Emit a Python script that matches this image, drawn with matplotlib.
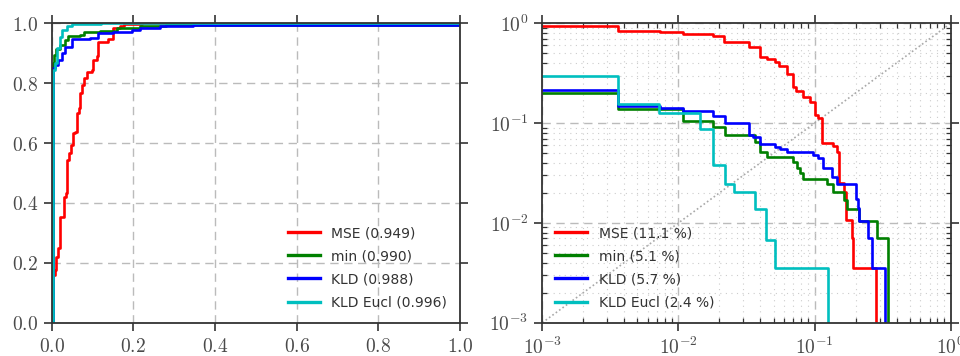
import matplotlib
matplotlib.use("Agg")
import math
import matplotlib.pyplot as plt
from matplotlib.ticker import FormatStrFormatter, LogLocator, FuncFormatter, NullFormatter

plt.rcParams['mathtext.fontset'] = 'cm'
plt.rcParams['font.family'] = ['DejaVu Sans']

# ---------------- data: ROC (left) ----------------
labels_roc = ["MSE (0.949)", "min (0.990)", "KLD (0.988)", "KLD Eucl (0.996)"]
labels_det = ["MSE (11.1 %)", "min (5.1 %)", "KLD (5.7 %)", "KLD Eucl (2.4 %)"]
colors = ["#ff0000", "#008000", "#0000ff", "#00bfbf"]

roc_mse_fpr = [0.0, 0.003, 0.004, 0.008, 0.010, 0.016, 0.020, 0.030, 0.036, 0.038, 0.042, 0.047,
               0.051, 0.056, 0.061, 0.066, 0.068, 0.073, 0.079, 0.087, 0.098, 0.102, 0.110, 0.114,
               0.139, 0.149, 0.151, 0.167, 0.176, 0.200, 0.220, 1.0]
roc_mse_tpr = [0.0, 0.065, 0.16, 0.176, 0.22, 0.248, 0.354, 0.42, 0.432, 0.543, 0.566, 0.594,
               0.632, 0.638, 0.70, 0.716, 0.766, 0.794, 0.816, 0.838, 0.844, 0.877, 0.89, 0.939,
               0.947, 0.978, 0.983, 0.991, 0.997, 0.999, 1.0, 1.0]

roc_min_fpr = [0.0, 0.002, 0.0065, 0.0105, 0.020, 0.033, 0.041, 0.069, 0.078, 0.118, 0.160, 0.216, 0.280, 0.347, 1.0]
roc_min_tpr = [0.0, 0.866, 0.894, 0.915, 0.928, 0.944, 0.958, 0.962, 0.972, 0.975, 0.983, 0.991, 0.993, 0.996, 1.0]

roc_kld_fpr = [0.0, 0.002, 0.008, 0.016, 0.024, 0.033, 0.049, 0.094, 0.114, 0.151, 0.196, 0.216, 0.265, 0.347, 1.0]
roc_kld_tpr = [0.0, 0.851, 0.861, 0.877, 0.90, 0.922, 0.947, 0.950, 0.967, 0.972, 0.978, 0.983, 0.991, 0.996, 1.0]

roc_eucl_fpr = [0.0, 0.002, 0.003, 0.008, 0.014, 0.019, 0.024, 0.037, 0.050, 0.120, 1.0]
roc_eucl_tpr = [0.0, 0.694, 0.844, 0.866, 0.917, 0.955, 0.978, 0.990, 0.997, 1.0, 1.0]

# ---------------- data: DET (right) ----------------
det_mse_fpr = [0.001, 0.00362, 0.00732, 0.01086, 0.01804, 0.02162, 0.0332, 0.0397, 0.0445, 0.0512,
               0.0551, 0.0624, 0.0699, 0.0731, 0.0826, 0.0926, 0.1008, 0.1066, 0.113, 0.1374,
               0.1454, 0.1521, 0.1646, 0.1693, 0.1874, 0.1928, 0.283]
det_mse_fnr = [0.948, 0.838, 0.812, 0.782, 0.752, 0.645, 0.575, 0.456, 0.436, 0.413,
               0.374, 0.311, 0.228, 0.210, 0.184, 0.164, 0.121, 0.112, 0.0627, 0.0594,
               0.0517, 0.0249, 0.0205, 0.0107, 0.0070, 0.0035, 1e-4]

det_min_fpr = [0.001, 0.00362, 0.01086, 0.01804, 0.022, 0.0365, 0.0397, 0.0445, 0.0699, 0.0739,
               0.0782, 0.0818, 0.1228, 0.1374, 0.1646, 0.1722, 0.2134, 0.2861, 0.3484]
det_min_fnr = [0.2018, 0.1375, 0.1057, 0.092, 0.076, 0.0652, 0.0517, 0.0454, 0.041, 0.0352,
               0.0313, 0.0273, 0.0245, 0.0205, 0.0169, 0.0139, 0.0104, 0.0070, 1e-4]

det_kld_fpr = [0.001, 0.00362, 0.00732, 0.01086, 0.01804, 0.022, 0.0332, 0.0355, 0.0397, 0.0512,
               0.0557, 0.0624, 0.098, 0.1066, 0.1148, 0.1336, 0.1454, 0.201, 0.2087, 0.2134,
               0.2485, 0.263, 0.3295]
det_kld_fnr = [0.2147, 0.1484, 0.1406, 0.1332, 0.1178, 0.101, 0.076, 0.072, 0.0617, 0.058,
               0.055, 0.0517, 0.0479, 0.0443, 0.0352, 0.029, 0.0243, 0.0172, 0.014, 0.0104,
               0.0070, 0.0035, 1e-4]

det_eucl_fpr = [0.001, 0.00362, 0.00724, 0.01441, 0.01804, 0.022, 0.02575, 0.0365, 0.044, 0.0512, 0.1249]
det_eucl_fnr = [0.2965, 0.1555, 0.1253, 0.0873, 0.038, 0.0245, 0.0206, 0.0137, 0.0068, 0.0035, 1e-4]

diag = [1e-3, 1.0]

roc_series = [(roc_mse_fpr, roc_mse_tpr), (roc_min_fpr, roc_min_tpr),
              (roc_kld_fpr, roc_kld_tpr), (roc_eucl_fpr, roc_eucl_tpr)]
det_series = [(det_mse_fpr, det_mse_fnr), (det_min_fpr, det_min_fnr),
              (det_kld_fpr, det_kld_fnr), (det_eucl_fpr, det_eucl_fnr)]

spine_c = "#333333"
tick_c = "#4a4a4a"
grid_c = "#bbbbbb"

fig = plt.figure(figsize=(9.6, 3.56), dpi=100)
ax1 = fig.add_axes([0.0539, 0.0935, 0.4253, 0.841])
ax2 = fig.add_axes([0.5649, 0.0935, 0.4254, 0.841])

def style(ax):
    for s in ax.spines.values():
        s.set_color(spine_c)
        s.set_linewidth(1.3)
    ax.tick_params(which='major', direction='out', length=6, width=1.2, color=spine_c,
                   labelsize=14, labelcolor=tick_c, top=True, right=True, pad=4)
    ax.tick_params(which='minor', direction='in', length=3.5, width=0.9, color=spine_c,
                   top=True, right=True)

# left ROC
for (x, y), c, lab in zip(roc_series, colors, labels_roc):
    ax1.step(x, y, where='post', color=c, lw=1.9, label=lab)
ax1.set_xlim(0, 1)
ax1.set_ylim(0, 1)
ax1.set_xticks([0.0, 0.2, 0.4, 0.6, 0.8, 1.0])
ax1.set_yticks([0.0, 0.2, 0.4, 0.6, 0.8, 1.0])
ax1.xaxis.set_major_formatter(FormatStrFormatter(r'$%.1f$'))
ax1.yaxis.set_major_formatter(FormatStrFormatter(r'$%.1f$'))
ax1.grid(True, which='major', color=grid_c, linestyle=(0, (6, 4)), lw=1.0)
ax1.set_axisbelow(True)
style(ax1)
leg1 = ax1.legend(loc='lower right', frameon=False, fontsize=10, handlelength=2.3,
                  handletextpad=0.8, labelspacing=0.66, borderaxespad=0.55)
for t in leg1.get_texts():
    t.set_color('#333333')
for h in leg1.get_lines():
    h.set_linewidth(2.4)

# right DET
ax2.plot(diag, diag, color='#a8a8a8', linestyle=(0, (1, 1.5)), lw=1.2)
for (x, y), c, lab in zip(det_series, colors, labels_det):
    ax2.step(x, y, where='post', color=c, lw=1.9, label=lab)
ax2.set_xscale('log')
ax2.set_yscale('log')
ax2.set_xlim(1e-3, 1)
ax2.set_ylim(1e-3, 1)
logfmt = FuncFormatter(lambda v, p: r'$10^{%d}$' % round(math.log10(v)))
for a in (ax2.xaxis, ax2.yaxis):
    a.set_major_locator(LogLocator(base=10))
    a.set_major_formatter(logfmt)
    a.set_minor_locator(LogLocator(base=10, subs=range(2, 10)))
    a.set_minor_formatter(NullFormatter())
ax2.grid(True, which='major', color=grid_c, linestyle=(0, (6, 4)), lw=1.0)
ax2.grid(True, which='minor', color='#cccccc', linestyle=(0, (1, 4)), lw=0.8)
ax2.set_axisbelow(True)
style(ax2)
leg2 = ax2.legend(loc='lower left', frameon=False, fontsize=10, handlelength=2.3,
                  handletextpad=0.8, labelspacing=0.66, borderaxespad=0.55)
for t in leg2.get_texts():
    t.set_color('#333333')
for h in leg2.get_lines():
    h.set_linewidth(2.4)

fig.savefig('out.png', dpi=100)
